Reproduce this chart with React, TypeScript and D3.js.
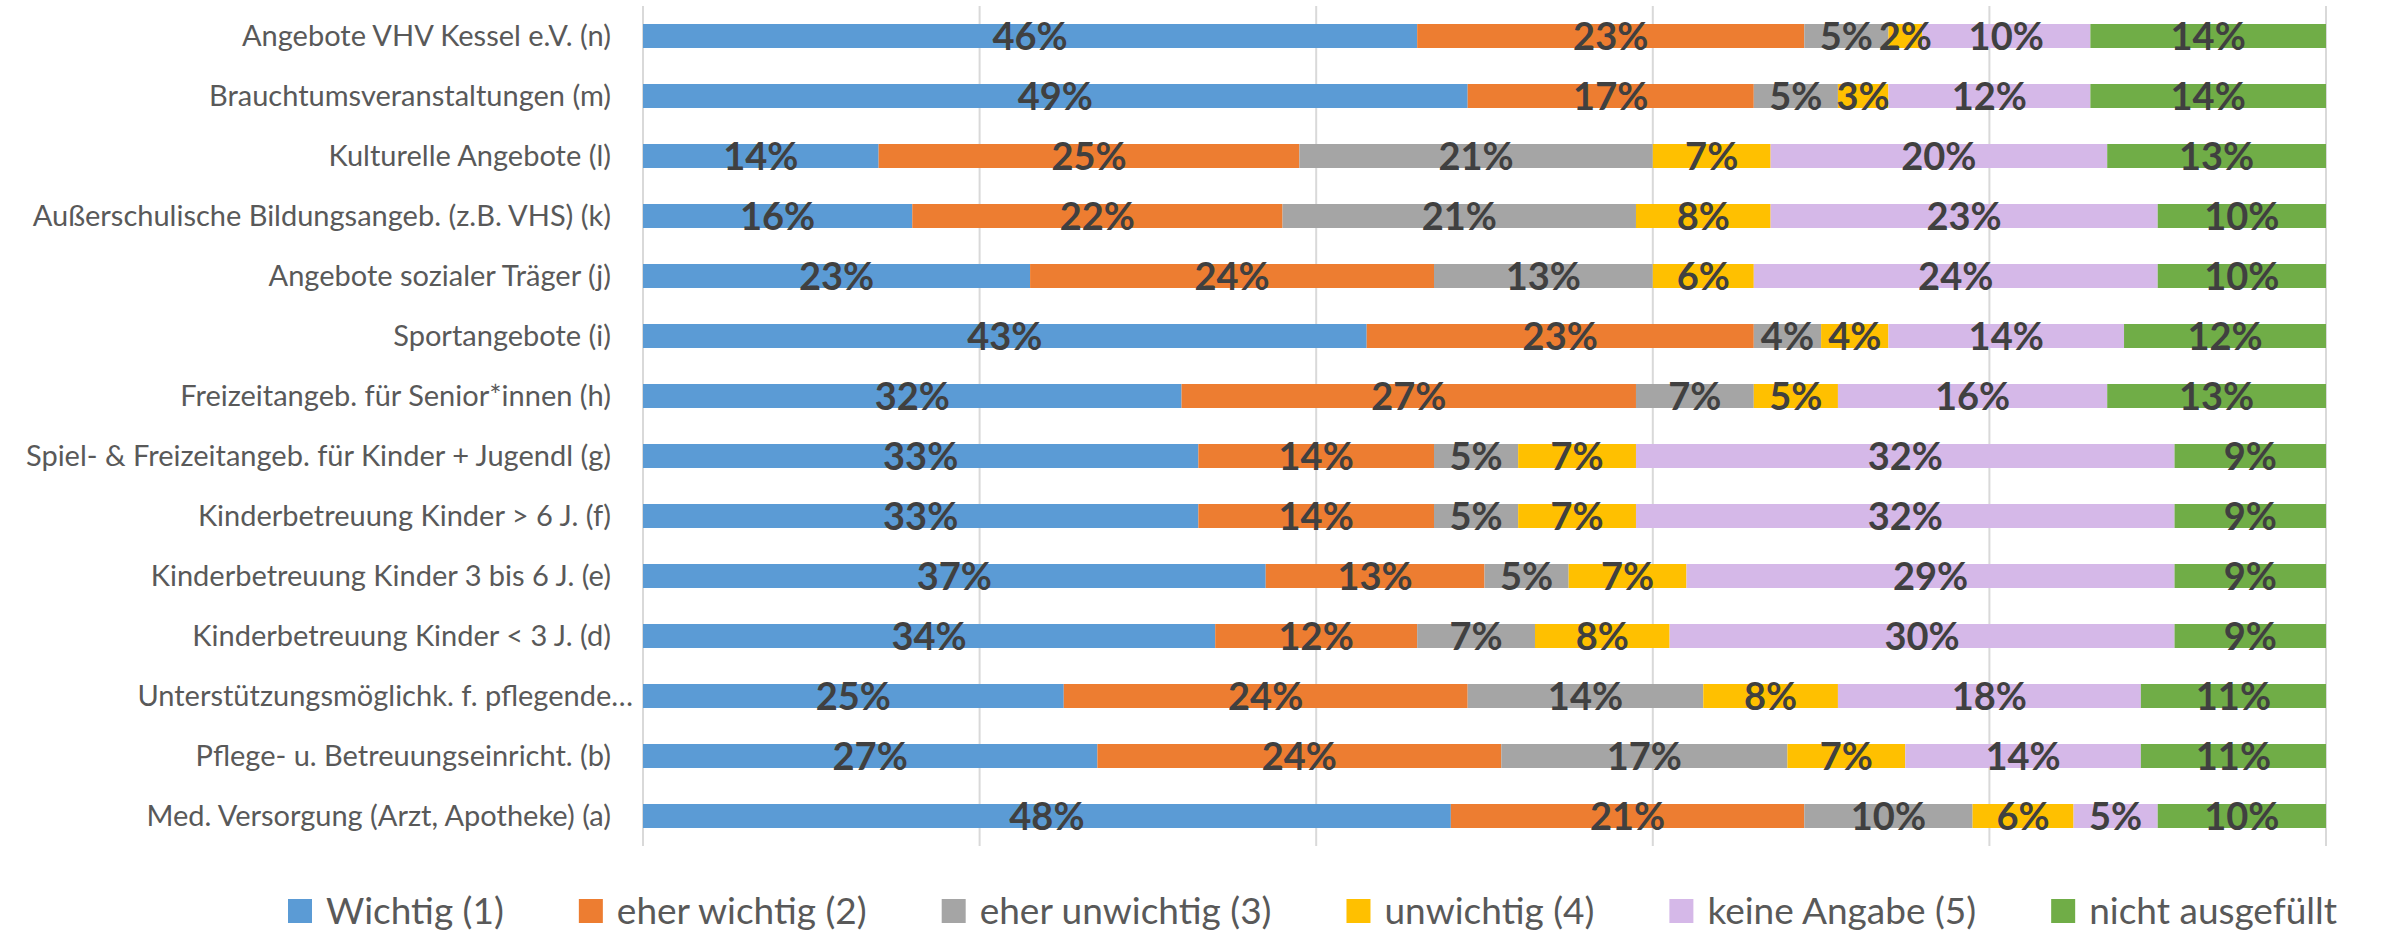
import React, { useRef, useEffect } from "react";
import * as d3 from "d3";

// categories, top to bottom
const categories = [
  "Angebote VHV Kessel e.V. (n)",
  "Brauchtumsveranstaltungen (m)",
  "Kulturelle Angebote (l)",
  "Außerschulische Bildungsangeb. (z.B. VHS) (k)",
  "Angebote sozialer Träger (j)",
  "Sportangebote (i)",
  "Freizeitangeb. für Senior*innen (h)",
  "Spiel- & Freizeitangeb. für Kinder + Jugendl (g)",
  "Kinderbetreuung Kinder > 6 J. (f)",
  "Kinderbetreuung Kinder 3 bis 6 J. (e)",
  "Kinderbetreuung Kinder < 3 J. (d)",
  "Unterstützungsmöglichk. f. pflegende…",
  "Pflege- u. Betreuungseinricht. (b)",
  "Med. Versorgung (Arzt, Apotheke) (a)",
];

const seriesNames = [
  "Wichtig (1)",
  "eher wichtig (2)",
  "eher unwichtig (3)",
  "unwichtig (4)",
  "keine Angabe (5)",
  "nicht ausgefüllt",
];
const seriesColors = ["#5B9BD5", "#ED7D31", "#A5A5A5", "#FFC000", "#D5B8E8", "#70AD47"];

const wichtig = [46, 49, 14, 16, 23, 43, 32, 33, 33, 37, 34, 25, 27, 48];
const eherWichtig = [23, 17, 25, 22, 24, 23, 27, 14, 14, 13, 12, 24, 24, 21];
const eherUnwichtig = [5, 5, 21, 21, 13, 4, 7, 5, 5, 5, 7, 14, 17, 10];
const unwichtig = [2, 3, 7, 8, 6, 4, 5, 7, 7, 7, 8, 8, 7, 6];
const keineAngabe = [10, 12, 20, 23, 24, 14, 16, 32, 32, 29, 30, 18, 14, 5];
const nichtAusgefuellt = [14, 14, 13, 10, 10, 12, 13, 9, 9, 9, 9, 11, 11, 10];

const xTicks = [0, 20, 40, 60, 80, 100];

const W = 2402;
const H = 935;
const FONT = "Lato, 'Open Sans', sans-serif";

export default function App() {
  const svgRef = useRef(null);

  useEffect(() => {
    const svg = d3.select(svgRef.current);
    svg.selectAll("*").remove();

    const allSeries = [wichtig, eherWichtig, eherUnwichtig, unwichtig, keineAngabe, nichtAusgefuellt];
    const rows = categories.map((c, i) => {
      const r = { cat: c };
      seriesNames.forEach((s, j) => (r[s] = allSeries[j][i]));
      return r;
    });
    const stacked = d3.stack().keys(seriesNames)(rows);

    const x = d3.scaleLinear().domain([0, 100]).range([643, 2326]);
    const y = d3.scaleBand().domain(categories).range([6, 846]).paddingInner(0.6).paddingOuter(0.3);

    // gridlines
    svg
      .append("g")
      .selectAll("line")
      .data(xTicks)
      .join("line")
      .attr("x1", (d) => x(d))
      .attr("x2", (d) => x(d))
      .attr("y1", y.range()[0])
      .attr("y2", y.range()[1])
      .attr("stroke", "#D9D9D9")
      .attr("stroke-width", 2);

    // bars
    const layers = svg
      .append("g")
      .selectAll("g")
      .data(stacked)
      .join("g")
      .attr("fill", (d, i) => seriesColors[i]);
    layers
      .selectAll("rect")
      .data((d) => d)
      .join("rect")
      .attr("x", (d) => x(d[0]))
      .attr("width", (d) => x(d[1]) - x(d[0]))
      .attr("y", (d) => y(d.data.cat))
      .attr("height", y.bandwidth());

    // data labels
    const labels = svg.append("g");
    stacked.forEach((layer) => {
      labels
        .append("g")
        .selectAll("text")
        .data(layer)
        .join("text")
        .attr("x", (d) => (x(d[0]) + x(d[1])) / 2)
        .attr("y", (d) => y(d.data.cat) + y.bandwidth() / 2)
        .attr("dy", "0.38em")
        .attr("text-anchor", "middle")
        .attr("font-family", FONT)
        .attr("font-weight", "bold")
        .attr("font-size", 38)
        .attr("fill", "#404040")
        .text((d) => Math.round(d[1] - d[0]) + "%");
    });

    // category labels
    svg
      .append("g")
      .selectAll("text")
      .data(categories)
      .join("text")
      .attr("x", (d) => x(0) - (d.endsWith("…") ? 10 : 32))
      .attr("y", (d) => y(d) + y.bandwidth() / 2)
      .attr("dy", "0.35em")
      .attr("text-anchor", "end")
      .attr("font-family", FONT)
      .attr("font-size", 29)
      .attr("fill", "#595959")
      .text((d) => d);

    // legend
    const legend = svg.append("g").attr("transform", "translate(288, 911)");
    let cx = 0;
    seriesNames.forEach((s, i) => {
      const g = legend.append("g").attr("transform", `translate(${cx},0)`);
      g.append("rect").attr("x", 0).attr("y", -12).attr("width", 24).attr("height", 24).attr("fill", seriesColors[i]);
      const t = g
        .append("text")
        .attr("x", 38)
        .attr("dy", "0.35em")
        .attr("font-family", FONT)
        .attr("font-size", 37)
        .attr("fill", "#595959")
        .text(s);
      const w = t.node().getComputedTextLength();
      cx += 38 + w + 75;
    });
  }, []);

  return (
    <svg
      ref={svgRef}
      width={W}
      height={H}
      style={{ position: "absolute", left: 0, top: 0, background: "#fff" }}
    ></svg>
  );
}
